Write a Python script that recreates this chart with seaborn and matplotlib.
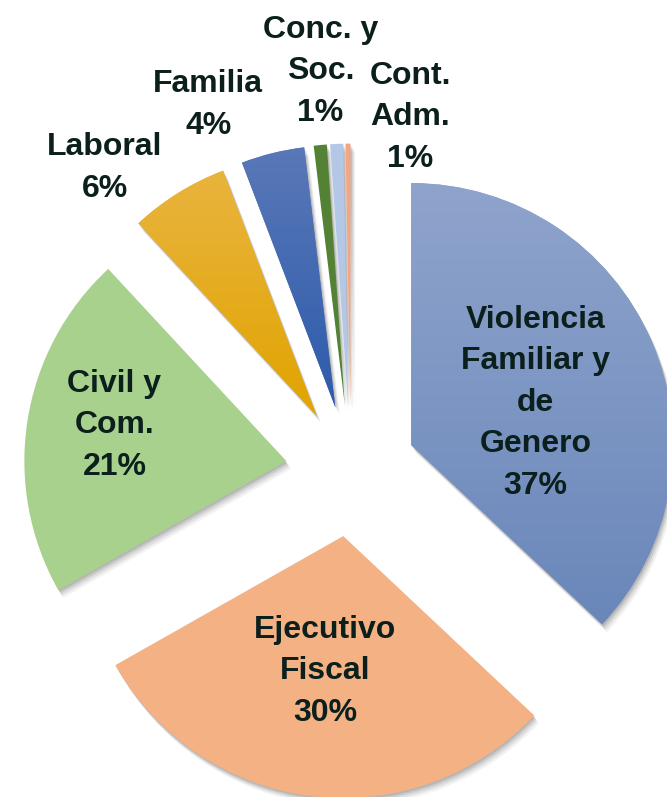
import numpy as np
import matplotlib
matplotlib.use("Agg")
import matplotlib.pyplot as plt
import seaborn as sns
from matplotlib.colors import LinearSegmentedColormap
from matplotlib.patches import PathPatch
from matplotlib.transforms import Affine2D

# data (share of cases, %)
names = ["Violencia\nFamiliar y\nde\nGenero", "Ejecutivo\nFiscal", "Civil y\nCom.",
         "Laboral", "Familia", "Conc. y\nSoc.", "Cont.\nAdm.", ""]
values = [37.0, 29.8, 21.3, 6.1, 3.9, 0.8, 0.8, 0.3]
# top / bottom colours of each slice (vertical gradient)
top_colors = ["#8FA4CC", "#F4B183", "#A9D18E", "#E9B43F", "#5A78B8", "#548235", "#B4C7E7", "#F4A582"]
bot_colors = ["#6A87BA", "#F4B183", "#A9D18E", "#E1A400", "#2D5BAB", "#548235", "#B4C7E7", "#F4A582"]

# label placement: (angle clockwise from top, distance in radii)
label_pos = [(69.7, 0.75), (187.4, 0.77), (280.9, 0.92), (320.9, 1.49),
             (338.7, 1.50), (355.6, 1.53), (9.5, 1.37), None]

sns.set_theme(style="white")
plt.rcParams["font.family"] = ["Liberation Sans Narrow", "Liberation Sans", "DejaVu Sans"]

fig = plt.figure(figsize=(6.67, 7.97), dpi=100)
ax = fig.add_axes([0, 0, 1, 1])

explode = [0.25] * len(values)
wedges, _ = ax.pie(values, explode=explode, startangle=90, counterclock=False,
                   radius=1, colors=top_colors, wedgeprops=dict(linewidth=0))

# soft shadow: a few shifted translucent copies
for w in wedges:
    path = w.get_path()
    for k, a in [(0.030, 0.05), (0.022, 0.07), (0.014, 0.09), (0.007, 0.10)]:
        sp = path.transformed(Affine2D().translate(k * 0.6, -k))
        ax.add_patch(PathPatch(sp, facecolor="black", edgecolor="none", alpha=a, zorder=0.5))
    w.set_zorder(1)

# gradient fill clipped to each wedge
for w, c1, c2 in zip(wedges, top_colors, bot_colors):
    if c1 == c2:
        continue
    v = w.get_path().vertices
    x0, x1 = v[:, 0].min(), v[:, 0].max()
    y0, y1 = v[:, 1].min(), v[:, 1].max()
    cmap = LinearSegmentedColormap.from_list("g", [c2, c1])
    grad = np.linspace(0, 1, 256).reshape(-1, 1)
    im = ax.imshow(grad, extent=[x0, x1, y0, y1], origin="lower", cmap=cmap,
                   aspect="auto", zorder=1.5, interpolation="bilinear")
    im.set_clip_path(w)

# labels
for name, val, pos in zip(names, values, label_pos):
    if pos is None:
        continue
    ang, dist = pos
    t = np.deg2rad(ang)
    ax.text(dist * np.sin(t), dist * np.cos(t), f"{name}\n{round(val)}%",
            ha="center", va="center", multialignment="center", linespacing=1.5,
            fontsize=23, fontweight="bold", color="#0B1F1C", zorder=3)

ax.set_xlim(-1.340, 1.206)
ax.set_ylim(-1.244, 1.798)
ax.set_aspect("equal")
ax.axis("off")

fig.savefig("out.png", dpi=100)
